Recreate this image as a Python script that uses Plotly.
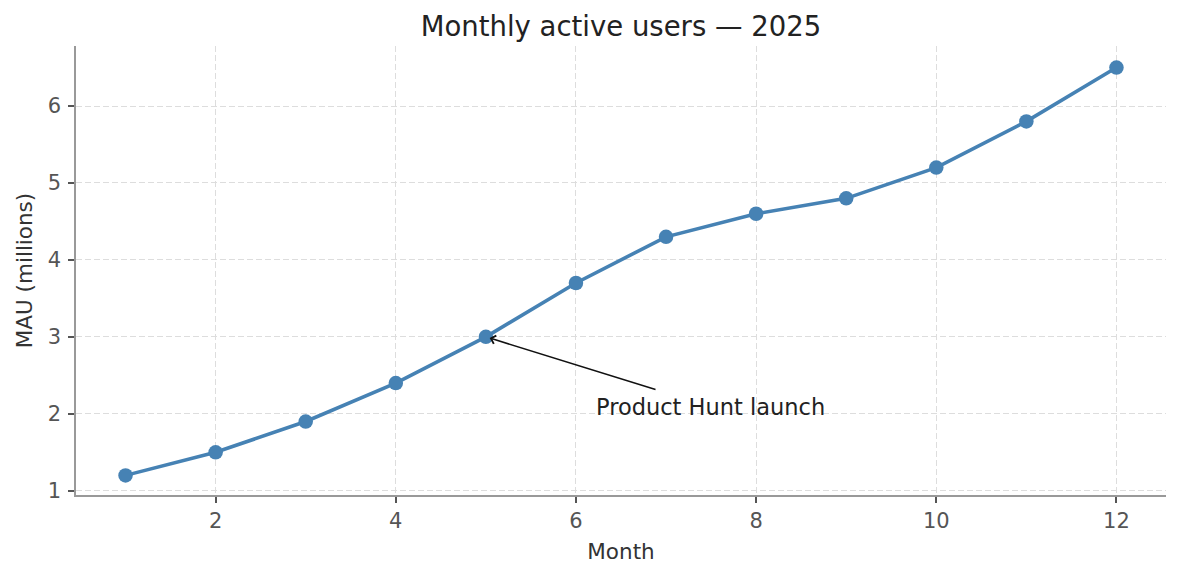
import plotly.graph_objects as go

months = [1, 2, 3, 4, 5, 6, 7, 8, 9, 10, 11, 12]
mau = [1.2, 1.5, 1.9, 2.4, 3.0, 3.7, 4.3, 4.6, 4.8, 5.2, 5.8, 6.5]

x_ticks = [2, 4, 6, 8, 10, 12]
y_ticks = [1, 2, 3, 4, 5, 6]

title_text = "Monthly active users — 2025"
x_label = "Month"
y_label = "MAU (millions)"

note_text = "Product Hunt launch"
note_point = (5, 3.0)
note_text_pos = (6.2, 2.0)
note_arrow_tail = (6.9, 2.31)

FONT = "DejaVu Sans"
BLUE = "#4682B4"

fig = go.Figure()
fig.add_trace(go.Scatter(
    x=months, y=mau, mode="lines+markers",
    line=dict(color=BLUE, width=3.6),
    marker=dict(color=BLUE, size=14.5),
    showlegend=False,
))

axis_common = dict(
    showline=True, linecolor="#999999", linewidth=1.5,
    ticks="outside", ticklen=6, tickwidth=1.5, tickcolor="#555555",
    tickfont=dict(family=FONT, size=21, color="#555555"),
    showgrid=True, gridcolor="#dddddd", griddash="6px,3px", gridwidth=1.2,
    zeroline=False, mirror=False,
)

fig.update_layout(
    width=1181, height=580,
    margin=dict(l=76, r=15, t=46, b=85),
    paper_bgcolor="white", plot_bgcolor="white",
    title=dict(text=title_text, x=0.5, xref="paper", xanchor="center", y=1 - 26 / 580, yanchor="middle",
               font=dict(family=FONT, size=27.5, color="#222222")),
    xaxis=dict(range=[0.45, 12.55], tickvals=x_ticks,
               title=dict(text=x_label, font=dict(family=FONT, size=21.5, color="#333333"), standoff=12),
               **axis_common),
    yaxis=dict(range=[0.945, 6.78], tickvals=y_ticks, ticklabelstandoff=3,
               title=dict(text=y_label, font=dict(family=FONT, size=21.5, color="#333333"), standoff=9),
               **axis_common),
)

fig.add_annotation(
    x=note_point[0], y=note_point[1], xref="x", yref="y",
    ax=note_arrow_tail[0], ay=note_arrow_tail[1], axref="x", ayref="y",
    text="", showarrow=True, arrowhead=4, arrowsize=1.1, arrowwidth=1.5,
    arrowcolor="#111111", standoff=4,
)
fig.add_annotation(
    x=note_text_pos[0], y=note_text_pos[1], xref="x", yref="y",
    text=note_text, showarrow=False, xanchor="left", yanchor="middle", yshift=7,
    font=dict(family=FONT, size=22.5, color="#222222"),
)

fig.write_html("out.html")
